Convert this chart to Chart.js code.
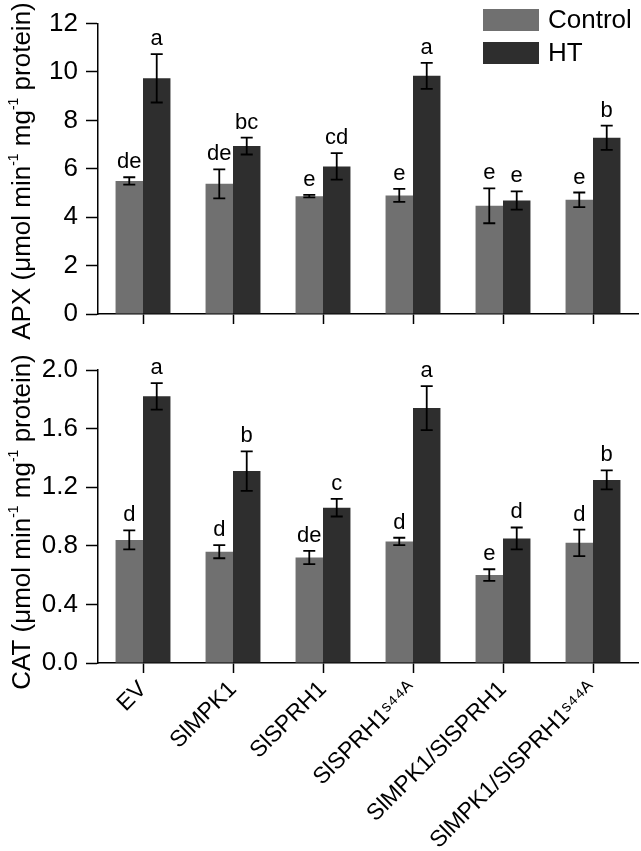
<!DOCTYPE html>
<html>
<head>
<meta charset="utf-8">
<script src="https://cdn.jsdelivr.net/npm/chart.js@4.4.1/dist/chart.umd.min.js"></script>
<style>
  body { margin: 0; background: #fff; }
  #wrap { position: relative; width: 641px; height: 851px; }
  canvas { position: absolute; left: 0; top: 0; }
</style>
</head>
<body>
<div id="wrap">
  <canvas id="catChart" width="641" height="851"></canvas>
  <canvas id="apxChart" width="641" height="851"></canvas>
</div>
<script>
// data
const categories = ['EV', 'SlMPK1', 'SlSPRH1', 'SlSPRH1ˢ⁴⁴ᴬ', 'SlMPK1/SlSPRH1', 'SlMPK1/SlSPRH1ˢ⁴⁴ᴬ'];

const apxControl = [5.5, 5.38, 4.87, 4.9, 4.47, 4.72];
const apxControlErr = [0.15, 0.6, 0.05, 0.27, 0.72, 0.3];
const apxControlLetters = ['de', 'de', 'e', 'e', 'e', 'e'];
const apxHT = [9.74, 6.94, 6.1, 9.84, 4.69, 7.28];
const apxHTErr = [1.0, 0.35, 0.55, 0.54, 0.38, 0.5];
const apxHTLetters = ['a', 'bc', 'cd', 'a', 'e', 'b'];
const apxTicks = [0, 2, 4, 6, 8, 10, 12];

const catControl = [0.84, 0.76, 0.72, 0.83, 0.60, 0.82];
const catControlErr = [0.065, 0.045, 0.045, 0.025, 0.04, 0.09];
const catControlLetters = ['d', 'd', 'de', 'd', 'e', 'd'];
const catHT = [1.82, 1.31, 1.06, 1.74, 0.85, 1.25];
const catHTErr = [0.09, 0.135, 0.06, 0.15, 0.075, 0.065];
const catHTLetters = ['a', 'b', 'c', 'a', 'd', 'b'];
const catTicks = [0.0, 0.4, 0.8, 1.2, 1.6, 2.0];

const FONT = '"Liberation Sans", Arial, sans-serif';
const CONTROL_COLOR = '#707070';
const HT_COLOR = '#2e2e2e';

// error bars + significance letters
const errorBarPlugin = {
    id: 'errorBars',
    afterDatasetsDraw(chart) {
        const ctx = chart.ctx;
        const y = chart.scales.y;
        ctx.save();
        chart.data.datasets.forEach((ds, di) => {
            const meta = chart.getDatasetMeta(di);
            meta.data.forEach((bar, i) => {
                const v = ds.data[i], e = ds.errors[i];
                const top = y.getPixelForValue(v + e);
                const bot = y.getPixelForValue(v - e);
                ctx.strokeStyle = '#000';
                ctx.lineWidth = 1.8;
                ctx.beginPath();
                ctx.moveTo(bar.x, top); ctx.lineTo(bar.x, bot);
                ctx.moveTo(bar.x - 6, top); ctx.lineTo(bar.x + 6, top);
                ctx.moveTo(bar.x - 6, bot); ctx.lineTo(bar.x + 6, bot);
                ctx.stroke();
                ctx.fillStyle = '#000';
                ctx.font = '22px ' + FONT;
                ctx.textAlign = 'center';
                ctx.textBaseline = 'alphabetic';
                ctx.fillText(ds.letters[i], bar.x, top - 9);
            });
        });
        ctx.restore();
    }
};

// rotated y title with real superscripts
function drawRichVertical(ctx, parts, cx, cy) {
    ctx.save();
    ctx.translate(cx, cy);
    ctx.rotate(-Math.PI / 2);
    ctx.fillStyle = '#000';
    ctx.textBaseline = 'alphabetic';
    ctx.textAlign = 'left';
    let total = 0;
    parts.forEach(p => {
        ctx.font = (p.sup ? '14px ' : '26px ') + FONT;
        total += ctx.measureText(p.t).width;
    });
    let x = -total / 2;
    parts.forEach(p => {
        ctx.font = (p.sup ? '14px ' : '26px ') + FONT;
        ctx.fillText(p.t, x, p.sup ? -3 : 9);
        x += ctx.measureText(p.t).width;
    });
    ctx.restore();
}

const yTitlePlugin = {
    id: 'yTitle',
    afterDraw(chart, args, opts) {
        drawRichVertical(chart.ctx, opts.parts, opts.x, opts.y);
    }
};

const boxLegendPlugin = {
    id: 'boxLegend',
    afterDraw(chart, args, opts) {
        if (!opts.show) return;
        const ctx = chart.ctx;
        ctx.save();
        chart.data.datasets.forEach((ds, i) => {
            const top = opts.y + i * 33;
            ctx.fillStyle = ds.backgroundColor;
            ctx.fillRect(opts.x, top, 56, 22);
            ctx.fillStyle = '#000';
            ctx.font = '26px ' + FONT;
            ctx.textBaseline = 'middle';
            ctx.textAlign = 'left';
            ctx.fillText(ds.label, opts.x + 65, top + 12);
        });
        ctx.restore();
    }
};

function titleParts(name) {
    return [
        { t: name + ' (μmol min' }, { t: '-1', sup: true },
        { t: ' mg' }, { t: '-1', sup: true }, { t: ' protein)' }
    ];
}

function makeChart(id, opt) {
    return new Chart(document.getElementById(id), {
        type: 'bar',
        data: {
            labels: categories,
            datasets: [{
                label: 'Control',
                data: opt.control,
                errors: opt.controlErr,
                letters: opt.controlLetters,
                backgroundColor: CONTROL_COLOR,
                categoryPercentage: 0.61,
                barPercentage: 1.0,
            }, {
                label: 'HT',
                data: opt.ht,
                errors: opt.htErr,
                letters: opt.htLetters,
                backgroundColor: HT_COLOR,
                categoryPercentage: 0.61,
                barPercentage: 1.0,
            }],
        },
        plugins: [errorBarPlugin, yTitlePlugin, boxLegendPlugin],
        options: {
            responsive: false,
            animation: false,
            layout: { padding: { top: opt.padTop, right: 3, left: 0, bottom: opt.padBottom } },
            plugins: {
                legend: { display: false },
                tooltip: { enabled: false },
                yTitle: { parts: titleParts(opt.name), x: 21, y: opt.titleY },
                boxLegend: { show: opt.legend, x: 483, y: 9 },
            },
            scales: {
                x: {
                    afterFit(s) { s.height = opt.xHeight; },
                    grid: {
                        offset: false, drawOnChartArea: false, drawTicks: true,
                        tickLength: 10, color: '#000', tickWidth: 1.5,
                    },
                    border: { display: true, color: '#000', width: 1.5 },
                    ticks: {
                        display: opt.xLabels,
                        color: '#000',
                        font: { family: FONT, size: 23 },
                        minRotation: 45, maxRotation: 45,
                        padding: 3,
                        autoSkip: false,
                    },
                },
                y: {
                    min: opt.ticks[0],
                    max: opt.ticks[opt.ticks.length - 1],
                    afterFit(s) { s.width = 98; },
                    afterBuildTicks(s) { s.ticks = opt.ticks.map(v => ({ value: v })); },
                    grid: {
                        drawOnChartArea: false, drawTicks: true,
                        tickLength: 12, color: '#000', tickWidth: 1.5,
                    },
                    border: { display: true, color: '#000', width: 1.5 },
                    ticks: {
                        color: '#000',
                        padding: 8,
                        font: { family: FONT, size: 26 },
                        callback: opt.fmt,
                    },
                },
            },
        },
    });
}

makeChart('apxChart', {
    name: 'APX',
    control: apxControl, controlErr: apxControlErr, controlLetters: apxControlLetters,
    ht: apxHT, htErr: apxHTErr, htLetters: apxHTLetters,
    ticks: apxTicks,
    fmt: v => String(v),
    padTop: 22, padBottom: 511, xHeight: 26, xLabels: false,
    titleY: 171, legend: true,
});

makeChart('catChart', {
    name: 'CAT',
    control: catControl, controlErr: catControlErr, controlLetters: catControlLetters,
    ht: catHT, htErr: catHTErr, htLetters: catHTLetters,
    ticks: catTicks,
    fmt: v => Number(v).toFixed(1),
    padTop: 370, padBottom: 0, xHeight: 188, xLabels: true,
    titleY: 522, legend: false,
});
</script>
</body>
</html>
